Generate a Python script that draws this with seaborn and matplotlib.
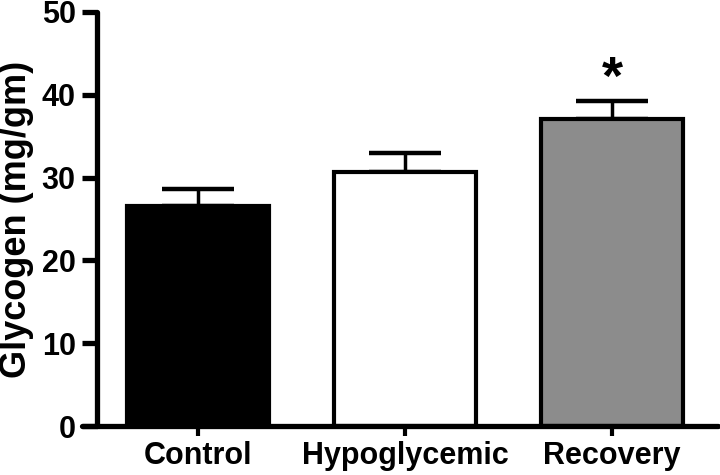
import numpy as np
import pandas as pd
import matplotlib
matplotlib.use("Agg")
import matplotlib.pyplot as plt
import seaborn as sns

# values
groups = ["Control", "Hypoglycemic", "Recovery"]
means = [26.6, 30.7, 37.1]
sem = [2.0, 2.3, 2.1]
colors = ["#000000", "#ffffff", "#8c8c8c"]
stars = ["", "", "*"]

sns.set_theme(style="ticks")
plt.rcParams["font.family"] = ["Liberation Sans", "DejaVu Sans"]
plt.rcParams["font.weight"] = "bold"
plt.rcParams.update({"text.color": "black", "axes.labelcolor": "black",
                     "axes.edgecolor": "black", "xtick.color": "black",
                     "ytick.color": "black"})

df = pd.DataFrame({"group": groups, "glycogen": means})

fig = plt.figure(figsize=(7.2, 4.75), dpi=100)
ax = fig.add_axes([0.114, 0.103, 0.883, 0.872])

sns.barplot(data=df, x="group", y="glycogen", hue="group", palette=colors,
            order=groups, legend=False, width=0.685, edgecolor="black",
            linewidth=3, errorbar=None, ax=ax, zorder=2)

# upper-only error bars
ax.errorbar(np.arange(len(groups)), means,
            yerr=[np.zeros(len(sem)), sem], fmt="none", ecolor="black",
            elinewidth=2.5, capsize=26, capthick=3.2, zorder=1)

for i, s in enumerate(stars):
    if s:
        ax.text(i, means[i] + sem[i] - 0.4, s, ha="center", va="bottom",
                fontsize=39, fontweight="bold")

ax.set_xlim(-0.56, 2.51)
ax.set_ylim(0, 50)
ax.set_yticks([0, 10, 20, 30, 40, 50])
ax.spines["left"].set_position(("data", -0.49))
ax.spines["left"].set_linewidth(3.8)
ax.spines["bottom"].set_linewidth(3.8)
ax.spines["top"].set_visible(False)
ax.spines["right"].set_visible(False)
ax.spines["left"].set_capstyle("round")
ax.spines["bottom"].set_capstyle("round")

ax.tick_params(axis="y", length=11, width=3.8, labelsize=22, pad=4)
ax.tick_params(axis="x", length=7, width=3, labelsize=22, pad=4)
for lab in ax.get_xticklabels() + ax.get_yticklabels():
    lab.set_fontweight("bold")

ax.set_xlabel("")
ax.set_ylabel("Glycogen (mg/gm)", fontsize=26, fontweight="bold")
ax.yaxis.set_label_coords(-0.075, 0.5)

fig.savefig("out.png", dpi=100)
